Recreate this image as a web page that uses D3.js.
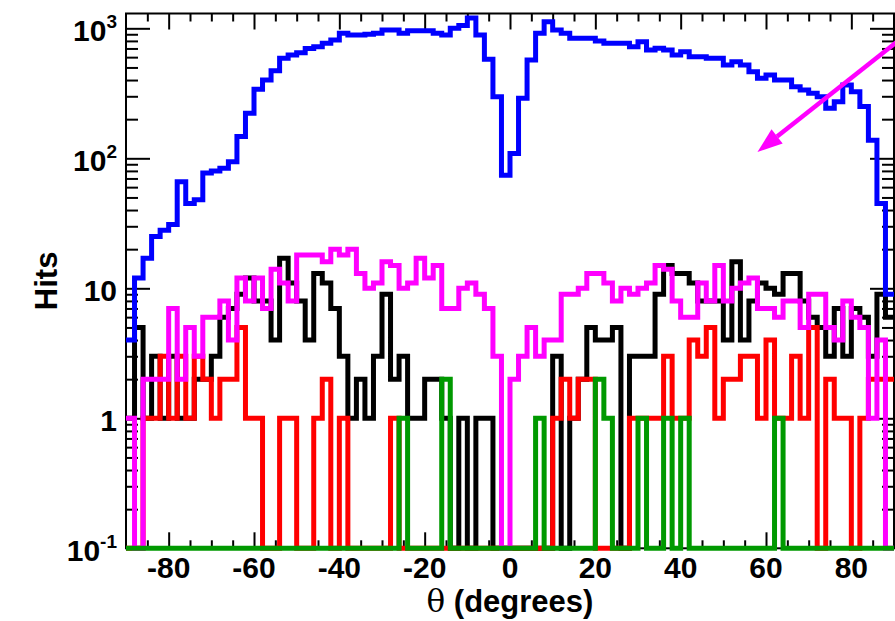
<!DOCTYPE html>
<html><head><meta charset="utf-8">
<script src="https://cdn.jsdelivr.net/npm/d3@7"></script>
<style>
body{margin:0;background:#fff;}
svg{display:block;}
text{font-family:"Liberation Sans",Arial,Helvetica,sans-serif;font-weight:bold;fill:#000;}
</style>
</head><body>
<svg id="c" width="895" height="621"></svg>
<script>
// ---- data ----
const thetaRange = [-90, 90];          // histogram range (degrees), 90 bins of 2 deg
const yRange = [0.1, 1300];            // log axis range
const xTickMajor = [-80, -60, -40, -20, 0, 20, 40, 60, 80];
const xTickLabels = ["-80", "-60", "-40", "-20", "0", "20", "40", "60", "80"];
const yTickMajor = [0.1, 1, 10, 100, 1000];
const yTickLabels = [["10", "-1"], ["1", ""], ["10", ""], ["10", "2"], ["10", "3"]];
const arrowFrom = [92, 850];
const arrowTo = [58, 112];

const blueHits = [4,12,17,25,28,31,66,45,48,77,80,84,94,147,222,340,400,472,588,623,
  650,700,720,767,813,916,888,888,900,916,970,970,916,956,956,956,916,888,1000,1050,
  1200,888,578,298,74,109,290,571,916,1124,970,916,838,838,838,800,767,767,767,722,
  789,681,701,680,623,661,605,605,588,588,522,554,522,463,412,437,400,400,355,335,
  316,298,243,272,366,325,250,138,45,9];
const blackHits = [1,5,1,3,1,3,1,1,2,2,3,6,7,9,12,8,8,4,17,11,
  8,4,13,11,7,3,1,2,1,3,9,2,3,1,1,2,2,1,0,1,
  0,1,1,0,0,0,0,0,0,0,3,0,1,2,5,4,4,5,0,3,
  3,3,9,15,13,13,11,8,8,8,4,16,4,8,11,10,9,13,13,8,
  6,5,3,7,3,7,6,3,9,6];
const redHits = [0,0,1,1,3,1,3,1,3,2,1,2,2,5,1,1,0,0,1,1,
  0,0,1,2,0,1,0,0,0,0,0,1,0,0,0,0,0,0,0,0,
  0,0,0,0,0,0,0,0,0,0,1,2,1,2,2,0,0,0,0,1,
  1,1,1,3,1,1,4,3,5,1,2,2,3,3,1,4,1,1,3,1,
  5,0,2,1,1,0,1,2,2,2];
const magentaHits = [1,0,2,2,2,7,2,5,3,6,6,8,4,12,8,12,7,14,11,8,
  18,18,18,16,20,18,20,13,10,11,16,15,10,11,17,12,15,7,7,10,
  11,9,7,3,0,2,3,5,3,4,4,9,9,10,13,13,11,8,10,9,
  10,11,15,14,8,6,6,11,8,15,8,10,11,12,7,7,6,8,8,5,
  9,9,5,4,8,6,5,1,4,0];
const greenHits = [0,0,0,0,0,0,0,0,0,0,0,0,0,0,0,0,0,0,0,0,
  0,0,0,0,0,0,0,0,0,0,0,0,1,0,0,0,0,2,0,0,
  0,0,0,0,0,0,0,0,1,0,0,0,0,0,0,2,1,0,0,0,
  1,0,0,1,0,1,0,0,0,0,0,0,0,0,0,0,1,0,0,0,
  0,0,0,0,0,0,0,0,0,0];

// ---- layout ----
const X0 = 126, X1 = 894, Y0 = 548.3, Y1 = 13.5;
const svg = d3.select("#c");
const x = d3.scaleLinear().domain(thetaRange).range([X0, X1]);
const y = d3.scaleLog().domain(yRange).range([Y0, Y1]);

// frame
svg.append("rect").attr("x", X0).attr("y", Y1).attr("width", X1 - X0).attr("height", Y0 - Y1)
  .attr("fill", "none").attr("stroke", "#000").attr("stroke-width", 2);

// ticks
const xMinor = d3.range(-85, 90, 5).filter(v => v % 20 !== 0);
function tickAxis(axisFn, scale, values, size, transform) {
  const g = svg.append("g").attr("transform", transform)
    .call(axisFn(scale).tickValues(values).tickSize(size).tickSizeOuter(0).tickFormat(""));
  g.select(".domain").remove();
  g.selectAll(".tick line").attr("stroke", "#000").attr("stroke-width", 2);
}
tickAxis(d3.axisBottom, x, xTickMajor, -16, `translate(0,${Y0})`);
tickAxis(d3.axisBottom, x, xMinor, -8, `translate(0,${Y0})`);
tickAxis(d3.axisTop, x, xTickMajor, -16, `translate(0,${Y1})`);
tickAxis(d3.axisTop, x, xMinor, -8, `translate(0,${Y1})`);
const yMinor = [];
[0.1, 1, 10, 100, 1000].forEach(d => { for (let k = 2; k <= 9; k++) { const v = d * k; if (v <= yRange[1]) yMinor.push(v); } });
tickAxis(d3.axisLeft, y, yTickMajor, -24, `translate(${X0},0)`);
tickAxis(d3.axisLeft, y, yMinor, -12, `translate(${X0},0)`);
tickAxis(d3.axisRight, y, yTickMajor, -24, `translate(${X1},0)`);
tickAxis(d3.axisRight, y, yMinor, -12, `translate(${X1},0)`);

// tick labels
svg.append("g").selectAll("text").data(xTickMajor).join("text")
  .attr("x", d => x(d)).attr("y", Y0 + 30).attr("text-anchor", "middle")
  .attr("font-size", 30).text((d, i) => xTickLabels[i]);
const yl = svg.append("g").selectAll("text").data(yTickMajor).join("text")
  .attr("x", 117).attr("y", d => y(d) + 13).attr("text-anchor", "end").attr("font-size", 30);
yl.append("tspan").text((d, i) => yTickLabels[i][0]);
yl.append("tspan").attr("font-size", 19).attr("dy", -13).text((d, i) => yTickLabels[i][1]);

// axis titles
const xt = svg.append("text").attr("x", (X0 + X1) / 2).attr("y", 612).attr("text-anchor", "middle").attr("font-size", 31);
xt.append("tspan").attr("font-weight", "normal").attr("font-family", "DejaVu Serif, serif").text("θ");
xt.append("tspan").text(" (degrees)");
svg.append("text").attr("transform", `translate(57,${(Y0 + Y1) / 2}) rotate(-90)`)
  .attr("text-anchor", "middle").attr("font-size", 31).text("Hits");

// histograms
function stepPoints(vals) {
  const w = (thetaRange[1] - thetaRange[0]) / vals.length;
  const pts = [];
  vals.forEach((v, i) => {
    const a = thetaRange[0] + i * w;
    const vv = Math.max(v, yRange[0]);
    pts.push([a, vv], [a + w, vv]);
  });
  return pts;
}
const line = d3.line().x(d => x(d[0])).y(d => y(d[1]));
const series = [
  [blackHits, "#000000"],
  [redHits, "#ff0000"],
  [magentaHits, "#ff00ff"],
  [blueHits, "#0000ff"],
  [greenHits, "#009900"]
];
series.forEach(([vals, col]) => {
  svg.append("path").attr("d", line(stepPoints(vals))).attr("fill", "none")
    .attr("stroke", col).attr("stroke-width", 5).attr("stroke-linejoin", "miter");
});

// arrow
const ax0 = x(arrowFrom[0]), ay0 = y(arrowFrom[1]), ax1 = x(arrowTo[0]), ay1 = y(arrowTo[1]);
const ang = Math.atan2(ay1 - ay0, ax1 - ax0);
const hl = 25, hw = 9;
const bx = ax1 - hl * Math.cos(ang), by = ay1 - hl * Math.sin(ang);
svg.append("line").attr("x1", ax0).attr("y1", ay0).attr("x2", bx).attr("y2", by)
  .attr("stroke", "#ff00ff").attr("stroke-width", 4.5);
svg.append("path").attr("d", d3.line()([
  [ax1, ay1],
  [bx + hw * Math.sin(ang), by - hw * Math.cos(ang)],
  [bx - hw * Math.sin(ang), by + hw * Math.cos(ang)]
])).attr("fill", "#ff00ff");
</script>
</body></html>
